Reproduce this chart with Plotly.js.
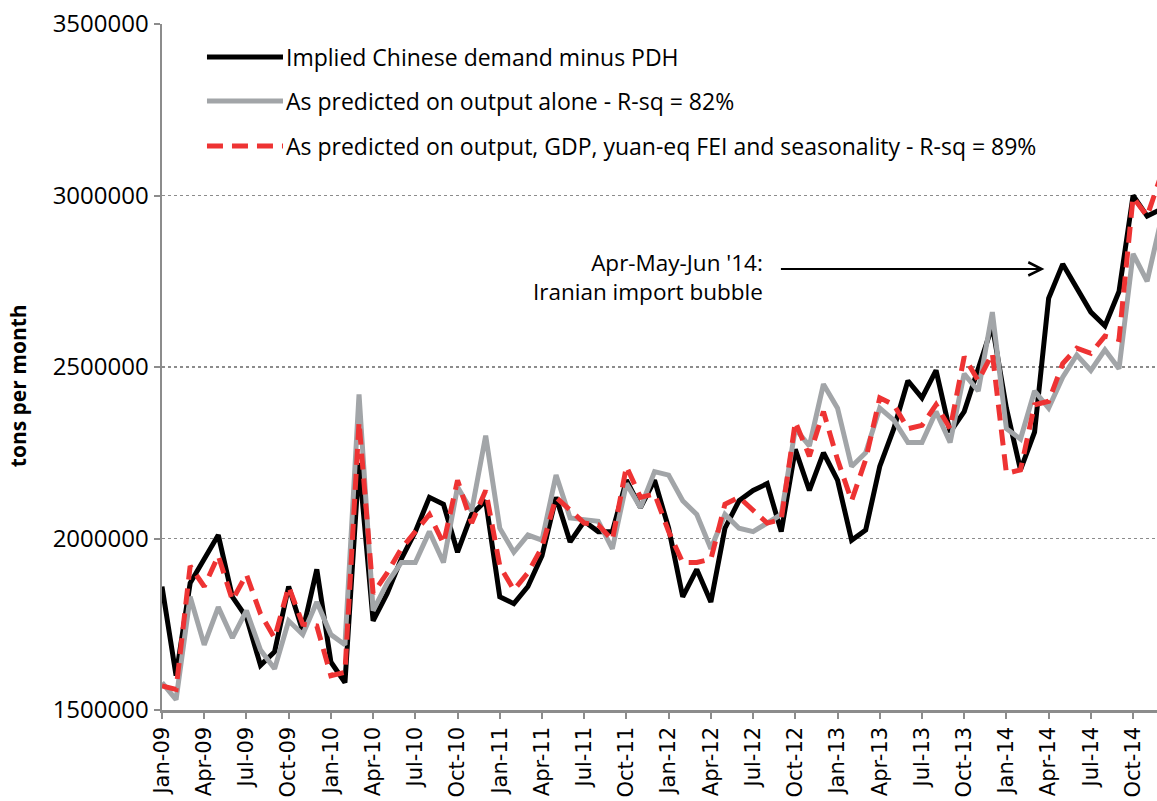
<!DOCTYPE html>
<html>
<head>
<meta charset="utf-8">
<script src="https://cdn.plot.ly/plotly-3.0.1.min.js"></script>
<style>
html,body{margin:0;padding:0;background:#fff;}
#chart{width:1157px;height:801px;}
</style>
</head>
<body>
<div id="chart"></div>
<script>
// Months Jan-09 .. Dec-14
const months = ["Jan-09","Feb-09","Mar-09","Apr-09","May-09","Jun-09","Jul-09","Aug-09","Sep-09","Oct-09","Nov-09","Dec-09",
"Jan-10","Feb-10","Mar-10","Apr-10","May-10","Jun-10","Jul-10","Aug-10","Sep-10","Oct-10","Nov-10","Dec-10",
"Jan-11","Feb-11","Mar-11","Apr-11","May-11","Jun-11","Jul-11","Aug-11","Sep-11","Oct-11","Nov-11","Dec-11",
"Jan-12","Feb-12","Mar-12","Apr-12","May-12","Jun-12","Jul-12","Aug-12","Sep-12","Oct-12","Nov-12","Dec-12",
"Jan-13","Feb-13","Mar-13","Apr-13","May-13","Jun-13","Jul-13","Aug-13","Sep-13","Oct-13","Nov-13","Dec-13",
"Jan-14","Feb-14","Mar-14","Apr-14","May-14","Jun-14","Jul-14","Aug-14","Sep-14","Oct-14","Nov-14","Dec-14"];

const impliedDemand = [1860000,1600000,1870000,1940000,2010000,1830000,1770000,1630000,1670000,1860000,1730000,1910000,
1640000,1580000,2220000,1760000,1840000,1940000,2020000,2120000,2100000,1960000,2070000,2110000,
1830000,1810000,1860000,1950000,2120000,1990000,2050000,2020000,2020000,2170000,2090000,2170000,
2030000,1830000,1910000,1815000,2030000,2110000,2140000,2160000,2020000,2260000,2140000,2250000,
2170000,1995000,2025000,2210000,2320000,2460000,2410000,2490000,2310000,2370000,2500000,2620000,
2380000,2200000,2310000,2700000,2800000,2730000,2660000,2620000,2720000,3000000,2940000,2960000];

const predOutput = [1580000,1530000,1830000,1690000,1800000,1710000,1790000,1675000,1620000,1760000,1720000,1815000,
1720000,1690000,2420000,1790000,1870000,1930000,1930000,2020000,1930000,2150000,2080000,2300000,
2030000,1960000,2010000,1995000,2185000,2060000,2055000,2050000,1970000,2160000,2090000,2195000,
2185000,2110000,2070000,1970000,2070000,2030000,2020000,2045000,2070000,2320000,2270000,2450000,
2380000,2210000,2250000,2380000,2345000,2280000,2280000,2370000,2280000,2480000,2430000,2660000,
2320000,2290000,2430000,2380000,2470000,2535000,2490000,2550000,2495000,2830000,2750000,2930000];

const predFull = [1570000,1560000,1920000,1860000,1950000,1820000,1895000,1780000,1710000,1860000,1750000,1745000,
1600000,1610000,2340000,1840000,1900000,1970000,2020000,2070000,1985000,2170000,2045000,2140000,
1920000,1850000,1900000,1975000,2120000,2080000,2045000,2040000,1995000,2210000,2120000,2130000,
2020000,1930000,1930000,1940000,2100000,2120000,2080000,2045000,2055000,2340000,2240000,2370000,
2230000,2110000,2230000,2410000,2390000,2320000,2330000,2390000,2320000,2530000,2460000,2540000,
2190000,2200000,2390000,2400000,2510000,2555000,2540000,2590000,2580000,2995000,2940000,3060000];

const tickIdx = [0,3,6,9,12,15,18,21,24,27,30,33,36,39,42,45,48,51,54,57,60,63,66,69];
const tickLabels = tickIdx.map(i => months[i]);
const yTicks = [1500000,2000000,2500000,3000000,3500000];

const seriesNames = ["Implied Chinese demand minus PDH",
  "As predicted on output alone - R-sq = 82%",
  "As predicted on output, GDP, yuan-eq FEI and seasonality - R-sq = 89%"];

const xIdx = months.map((m,i)=>i);
const FONT = "Open Sans, Noto Sans, sans-serif";

const traces = [
  {x:xIdx, y:impliedDemand, type:'scatter', mode:'lines', name:seriesNames[0],
   line:{color:'#000000', width:5}},
  {x:xIdx, y:predOutput, type:'scatter', mode:'lines', name:seriesNames[1],
   line:{color:'#A2A5A8', width:5}},
  {x:xIdx, y:predFull, type:'scatter', mode:'lines', name:seriesNames[2],
   line:{color:'#EE3333', width:5, dash:'16px,9px'}}
];

const legY = [0.952, 0.8878, 0.822];
const legStyles = [
  {color:'#000000', width:5},
  {color:'#A2A5A8', width:5},
  {color:'#EE3333', width:5, dash:'16px,9px'}
];
const shapes = legY.map((yy,k)=>({type:'line', xref:'paper', yref:'paper',
  x0:0.0452, x1:0.1216, y0:yy, y1:yy, line:legStyles[k]}));

const annotations = legY.map((yy,k)=>({xref:'paper', yref:'paper', x:0.1226, y:yy,
  xanchor:'left', yanchor:'middle', text:seriesNames[k], showarrow:false,
  font:{family:FONT, size:23, color:'#000'}}));

annotations.push({xref:'paper', yref:'paper', x:0.606, y:0.631, xanchor:'right', yanchor:'middle',
  align:'right', text:"Apr-May-Jun '14:<br>Iranian import bubble", showarrow:false,
  font:{family:FONT, size:22.5, color:'#000'}});
annotations.push({xref:'x', yref:'y', x:62.7, y:2786000, axref:'pixel', ayref:'pixel',
  ax:-265, ay:0, text:'', showarrow:true, arrowhead:5, arrowsize:1.3, arrowwidth:2, arrowcolor:'#000'});
annotations.push({xref:'paper', yref:'paper', x:-0.1447, y:0.472, xanchor:'center', yanchor:'middle',
  textangle:-90, text:'<b>tons per month</b>', showarrow:false,
  font:{family:FONT, size:21, color:'#000'}});

const layout = {
  width:1157, height:801,
  margin:{l:162, r:0, t:24, b:91, pad:0},
  paper_bgcolor:'#fff', plot_bgcolor:'#fff',
  showlegend:false,
  font:{family:FONT, size:18, color:'#000'},
  xaxis:{range:[0,70.7], tickmode:'array', tickvals:tickIdx, ticktext:tickLabels,
    tickangle:-90, ticks:'outside', ticklen:6, tickwidth:2, tickcolor:'#8C8C8C',
    showline:true, linecolor:'#8C8C8C', linewidth:2.5, showgrid:false, zeroline:false,
    tickfont:{family:"DejaVu Sans, sans-serif", size:21, color:'#000'}},
  yaxis:{range:[1500000,3500000], tickmode:'array', tickvals:yTicks, ticktext:yTicks.map(String),
    ticks:'outside', ticklen:6, tickwidth:2, tickcolor:'#8C8C8C',
    showline:true, linecolor:'#8C8C8C', linewidth:2.5,
    showgrid:true, gridcolor:'#8C8C8C', gridwidth:1.5, griddash:'dot', zeroline:false,
    tickfont:{family:FONT, size:24, color:'#000'}},
  shapes:shapes,
  annotations:annotations
};

Plotly.newPlot('chart', traces, layout, {staticPlot:true, displayModeBar:false});
</script>
</body>
</html>
